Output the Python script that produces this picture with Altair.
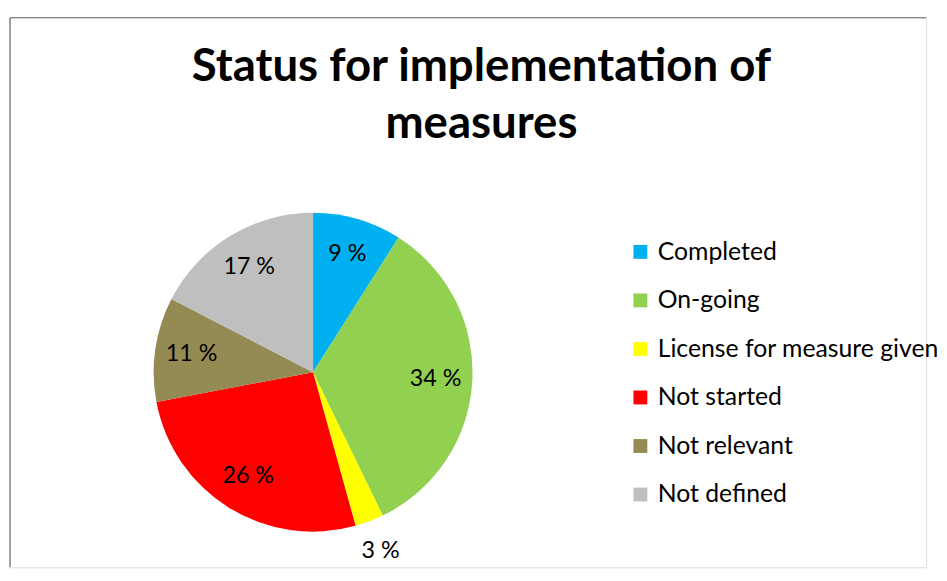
import altair as alt
import pandas as pd

title_lines = ["Status for implementation of", "measures"]
categories = ["Completed", "On-going", "License for measure given", "Not started", "Not relevant", "Not defined"]
values = [9.0, 33.8, 2.9, 26.3, 10.6, 17.4]
labels = ["9 %", "34 %", "3 %", "26 %", "11 %", "17 %"]
colors = ["#00B0F0", "#92D050", "#FFFF00", "#FF0000", "#948A54", "#BFBFBF"]

df = pd.DataFrame({
    "category": categories,
    "value": values,
    "label": labels,
    "idx": list(range(len(categories))),
})

W, H = 925, 555
CX, CY, R = 306, 358, 161
FONT = "Lato"
BORDER = "#878787"

color = alt.Color(
    "category:N",
    scale=alt.Scale(domain=categories, range=colors),
    sort=categories,
    legend=alt.Legend(
        title=None,
        orient="none",
        legendX=624,
        legendY=224,
        symbolType="square",
        symbolSize=196,
        symbolStrokeWidth=0,
        labelFontSize=25,
        labelFont=FONT,
        labelColor="#000000",
        labelLimit=400,
        rowPadding=23,
        labelOffset=5,
    ),
)

base = alt.Chart(df)

pie = base.mark_arc(radius=R).encode(
    theta=alt.Theta("value:Q", stack=True),
    order=alt.Order("idx:Q"),
    color=color,
    x=alt.value(CX),
    y=alt.value(CY),
)

text = base.transform_window(
    cum="sum(value)", sort=[alt.SortField("idx", order="ascending")], frame=[None, 0]
).transform_joinaggregate(
    total="sum(value)"
).transform_calculate(
    mid="(datum.cum - datum.value / 2) / datum.total",
    lr="datum.value < 5 ? 193 : 124",
).mark_text(font=FONT, fontSize=23.5, color="#000000").encode(
    theta=alt.Theta("mid:Q", stack=None,
                    scale=alt.Scale(domain=[0, 1], range=[0, 6.283185307179586])),
    radius=alt.Radius("lr:Q", scale=None),
    text="label:N",
    x=alt.value(CX),
    y=alt.value(CY),
)

title = alt.Chart(pd.DataFrame({"t": [title_lines]})).mark_text(
    font=FONT, fontSize=46, fontWeight="bold", color="#000000",
    lineHeight=58, baseline="alphabetic", align="center",
).encode(
    text="t",
    x=alt.value(476),
    y=alt.value(64),
)

border_top = alt.Chart(pd.DataFrame({"a": [0]})).mark_rule(
    color=BORDER, strokeWidth=1.5
).encode(x=alt.value(0), x2=alt.value(W), y=alt.value(0))

border_left = alt.Chart(pd.DataFrame({"a": [0]})).mark_rule(
    color=BORDER, strokeWidth=1.5
).encode(x=alt.value(0), y=alt.value(0), y2=alt.value(H))

chart = alt.layer(border_top, border_left, pie, text, title).resolve_scale(
    theta="independent", radius="independent"
).properties(
    width=W, height=H,
    padding={"left": 1, "top": 6, "right": 0, "bottom": 0},
).configure_view(
    stroke="transparent", strokeWidth=0
).configure(background="transparent")

chart.save("out.html", embed_options={"renderer": "svg", "actions": False})
